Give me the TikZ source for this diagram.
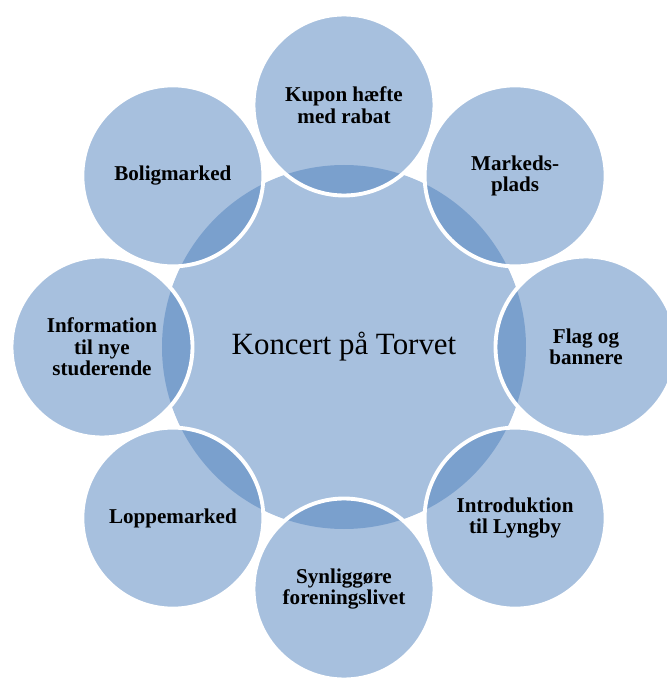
\documentclass[tikz,border=0pt]{standalone}
\usepackage{fontspec}
\setmainfont{Liberation Serif}
\definecolor{vennblue}{RGB}{79,129,189}
\tikzset{
  hub/.style={circle,fill=vennblue,fill opacity=0.5,text opacity=1,
    minimum size=7.28cm,inner sep=0pt,font=\fontsize{17.6}{20}\selectfont},
  petal/.style={circle,fill=vennblue,fill opacity=0.5,text opacity=1,
    draw=white,draw opacity=1,line width=2.2pt,minimum size=3.62cm,
    inner sep=0pt,align=center,font=\bfseries\fontsize{12}{12.2}\selectfont}
}

\begin{document}
\begin{tikzpicture}
\clip (-6.88,-6.62) rectangle (6.46,6.94);
\node (koncert) at (0,0) [hub] {Koncert på Torvet};
\node (kupon) at (90:4.84) [petal] {Kupon hæfte\\med rabat};
\node (marked) at (45:4.84) [petal] {Markeds-\\plads};
\node (flag) at (0:4.84) [petal] {Flag og\\bannere};
\node (intro) at (-45:4.84) [petal] {Introduktion\\til Lyngby};
\node (forening) at (-90:4.84) [petal] {Synliggøre\\foreningslivet};
\node (loppe) at (-135:4.84) [petal] {Loppemarked};
\node (info) at (180:4.84) [petal] {Information\\til nye\\studerende};
\node (bolig) at (135:4.84) [petal] {Boligmarked};
\end{tikzpicture}
\end{document}
